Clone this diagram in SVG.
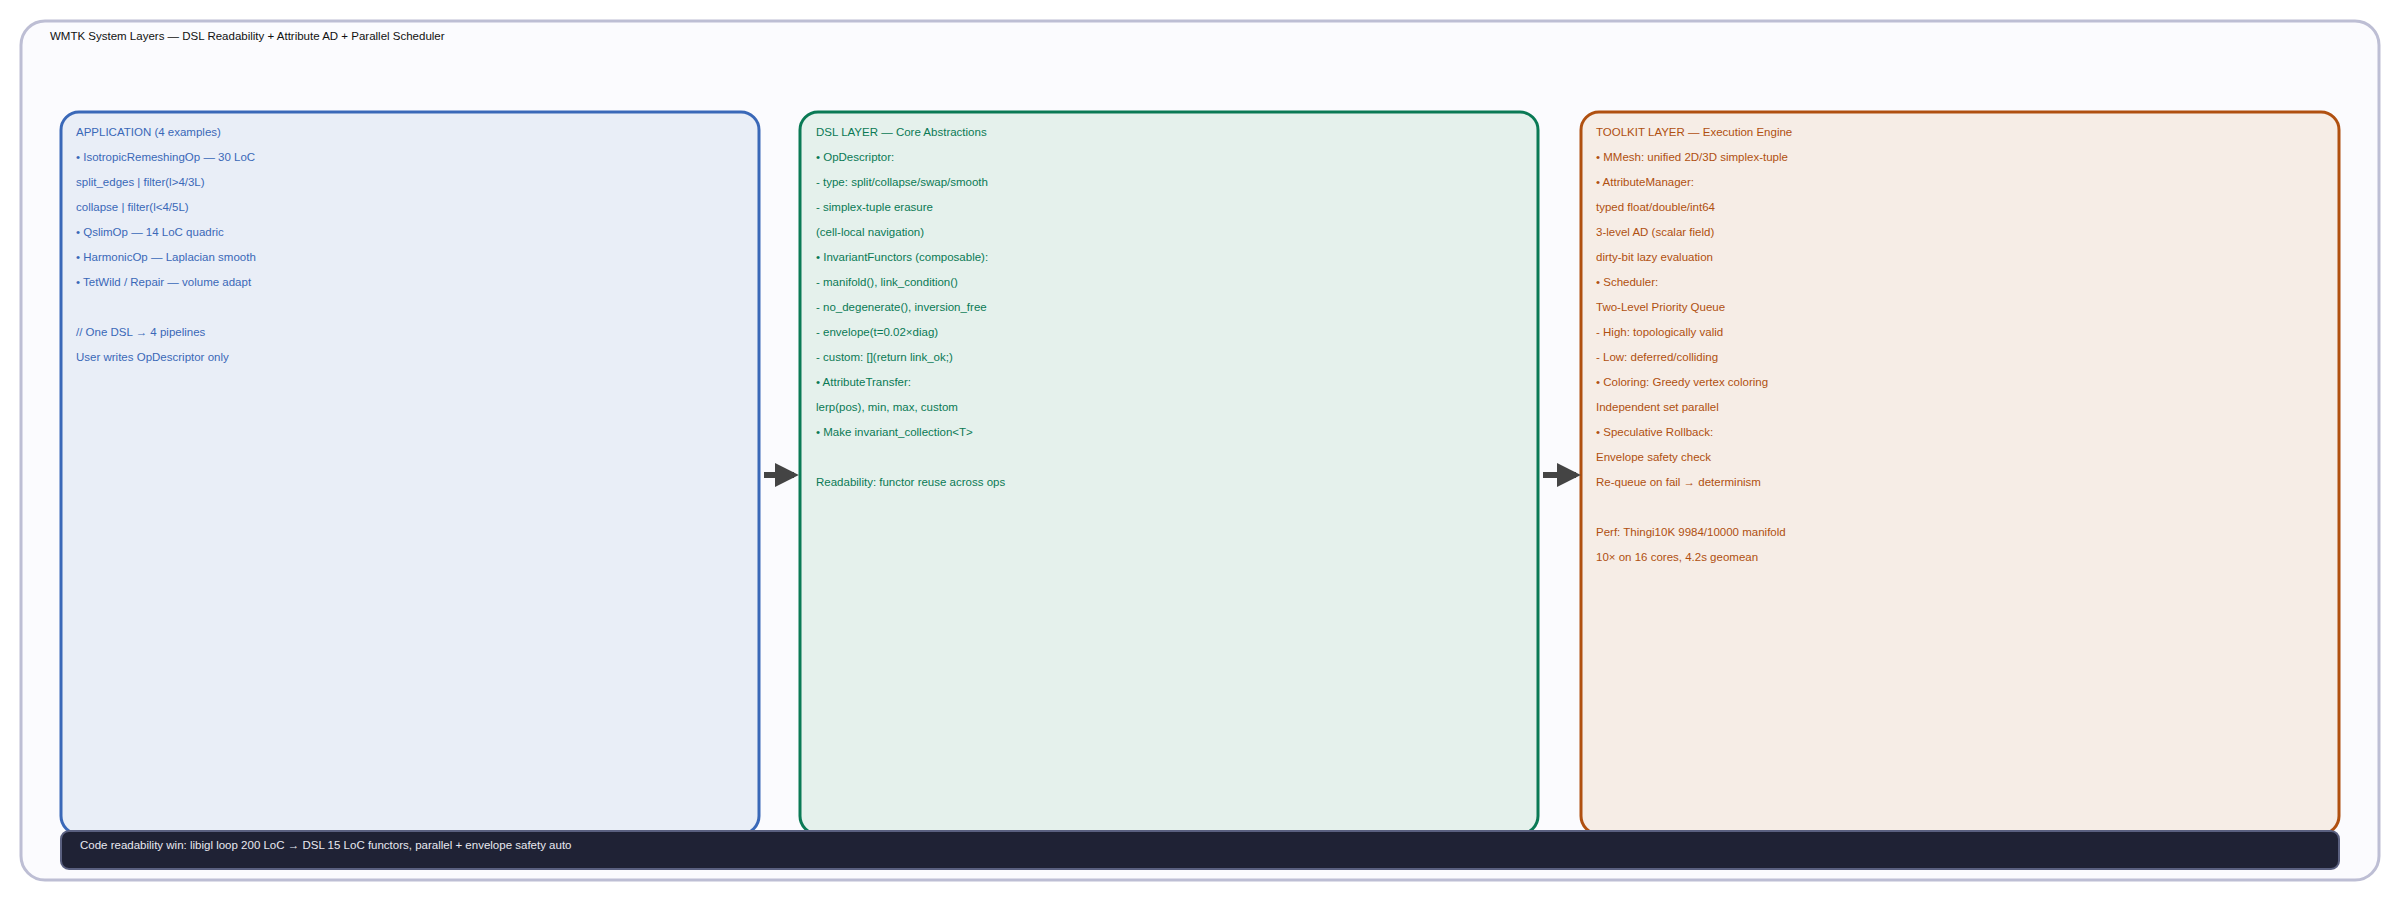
<svg xmlns="http://www.w3.org/2000/svg" width="2400" height="900" viewBox="0 0 2400 900">
<defs>
<marker id="ah" viewBox="0 0 10 10" refX="8" refY="5" markerWidth="4" markerHeight="4" orient="auto"><path d="M0,0 L10,5 L0,10 z" fill="#444"/></marker>
<style>
text{font-family:"Liberation Sans",Arial,sans-serif;font-size:11.5px}
.b text{fill:#3a68b8}.g text{fill:#0a7a55}.o text{fill:#b05010}
.cn{stroke:#444;stroke-width:6;fill:none}
</style>
</defs>
<rect x="0" y="0" width="2400" height="900" fill="#ffffff"/>
<rect x="21" y="21" width="2358" height="859" rx="24" fill="#fbfbfe" stroke="#bdbed4" stroke-width="3"/>
<text x="50" y="40" fill="#111">WMTK System Layers — DSL Readability + Attribute AD + Parallel Scheduler</text>
<g id="app" class="b">
<rect x="61" y="112" width="698" height="722" rx="18" fill="#e9eef7" stroke="#3a68b8" stroke-width="3"/>
<text x="76" y="136">APPLICATION (4 examples)</text>
<text x="76" y="161">• IsotropicRemeshingOp — 30 LoC</text>
<text x="76" y="186">  split_edges | filter(l&gt;4/3L)</text>
<text x="76" y="211">  collapse | filter(l&lt;4/5L)</text>
<text x="76" y="236">• QslimOp — 14 LoC quadric</text>
<text x="76" y="261">• HarmonicOp — Laplacian smooth</text>
<text x="76" y="286">• TetWild / Repair — volume adapt</text>
<text x="76" y="336">// One DSL → 4 pipelines</text>
<text x="76" y="361">User writes OpDescriptor only</text>
</g>
<g id="dsl" class="g">
<rect x="800" y="112" width="738" height="722" rx="18" fill="#e5f1ec" stroke="#0a7a55" stroke-width="3"/>
<text x="816" y="136">DSL LAYER — Core Abstractions</text>
<text x="816" y="161">• OpDescriptor:</text>
<text x="816" y="186">  - type: split/collapse/swap/smooth</text>
<text x="816" y="211">  - simplex-tuple erasure</text>
<text x="816" y="236">    (cell-local navigation)</text>
<text x="816" y="261">• InvariantFunctors (composable):</text>
<text x="816" y="286">  - manifold(), link_condition()</text>
<text x="816" y="311">  - no_degenerate(), inversion_free</text>
<text x="816" y="336">  - envelope(t=0.02×diag)</text>
<text x="816" y="361">  - custom: [](return link_ok;)</text>
<text x="816" y="386">• AttributeTransfer:</text>
<text x="816" y="411">  lerp(pos), min, max, custom</text>
<text x="816" y="436">• Make invariant_collection&lt;T&gt;</text>
<text x="816" y="486">Readability: functor reuse across ops</text>
</g>
<g id="toolkit" class="o">
<rect x="1581" y="112" width="758" height="722" rx="18" fill="#f6ede6" stroke="#b05010" stroke-width="3"/>
<text x="1596" y="136">TOOLKIT LAYER — Execution Engine</text>
<text x="1596" y="161">• MMesh: unified 2D/3D simplex-tuple</text>
<text x="1596" y="186">• AttributeManager:</text>
<text x="1596" y="211">  typed float/double/int64</text>
<text x="1596" y="236">  3-level AD (scalar field)</text>
<text x="1596" y="261">  dirty-bit lazy evaluation</text>
<text x="1596" y="286">• Scheduler:</text>
<text x="1596" y="311">  Two-Level Priority Queue</text>
<text x="1596" y="336">   - High: topologically valid</text>
<text x="1596" y="361">   - Low: deferred/colliding</text>
<text x="1596" y="386">• Coloring: Greedy vertex coloring</text>
<text x="1596" y="411">  Independent set parallel</text>
<text x="1596" y="436">• Speculative Rollback:</text>
<text x="1596" y="461">  Envelope safety check</text>
<text x="1596" y="486">  Re-queue on fail → determinism</text>
<text x="1596" y="536">Perf: Thingi10K 9984/10000 manifold</text>
<text x="1596" y="561">10× on 16 cores, 4.2s geomean</text>
</g>
<g id="summary">
<rect x="61" y="831" width="2278" height="38" rx="8" fill="#1f2235" stroke="#5a6080" stroke-width="2"/>
<text x="80" y="849" fill="#e8e8f0">Code readability win: libigl loop 200 LoC → DSL 15 LoC functors, parallel + envelope safety auto</text>
</g>
<g id="connectors">
<line class="cn" x1="764" y1="475" x2="794" y2="475" marker-end="url(#ah)"/>
<line class="cn" x1="1543" y1="475" x2="1576" y2="475" marker-end="url(#ah)"/>
</g>
</svg>
